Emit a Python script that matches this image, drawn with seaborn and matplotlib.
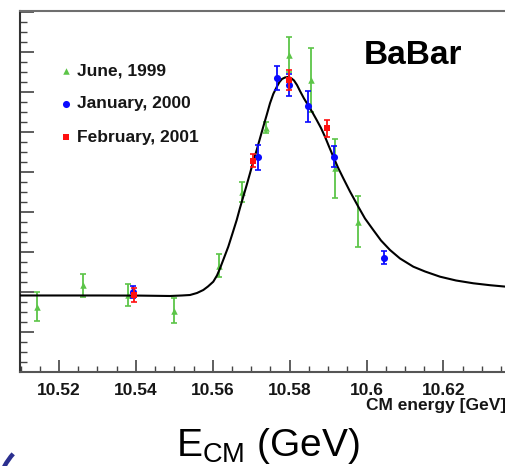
import numpy as np
import pandas as pd
import matplotlib
matplotlib.use("Agg")
import matplotlib.pyplot as plt
from matplotlib.ticker import FixedLocator, FixedFormatter, MultipleLocator, NullFormatter
from matplotlib.patches import Arc
import seaborn as sns

# ---------------- data ----------------
series_names = ["June, 1999", "January, 2000", "February, 2001"]

june_x = [10.5144, 10.5262, 10.5380, 10.5499, 10.5617, 10.5677, 10.5738, 10.5798, 10.5855, 10.5917, 10.5978]
june_y = [1.63, 2.17, 1.93, 1.53, 2.66, 4.50, 6.11, 7.93, 7.30, 5.09, 3.76]
june_err = [0.36, 0.29, 0.28, 0.31, 0.28, 0.24, 0.13, 0.44, 0.79, 0.74, 0.63]

jan_x = [10.5393, 10.5718, 10.5768, 10.5798, 10.5848, 10.5916, 10.6045]
jan_y = [2.00, 5.37, 7.34, 7.18, 6.64, 5.38, 2.86]
jan_err = [0.15, 0.31, 0.30, 0.28, 0.38, 0.26, 0.17]

feb_x = [10.5396, 10.5705, 10.5797, 10.5896]
feb_y = [1.93, 5.28, 7.30, 6.09]
feb_err = [0.17, 0.16, 0.24, 0.21]

fit_x = [10.50986, 10.53066, 10.54107, 10.54887, 10.55199, 10.55407, 10.55589, 10.55753,
         10.55875, 10.56013, 10.56109, 10.56187, 10.56291, 10.56403, 10.56512, 10.56622,
         10.56707, 10.56793, 10.56882, 10.56968, 10.57053, 10.57142, 10.57228, 10.57313,
         10.57402, 10.57488, 10.57573, 10.57662, 10.57735, 10.57800, 10.57878, 10.57956,
         10.58034, 10.58112, 10.58190, 10.58268, 10.58372, 10.58484, 10.58593, 10.58702,
         10.58814, 10.58918, 10.59022, 10.59134, 10.59256, 10.59394, 10.59568, 10.59784,
         10.59958, 10.60174, 10.60375, 10.60609, 10.60869, 10.61215, 10.61519, 10.61909,
         10.62325, 10.62775, 10.63209, 10.63626, 10.64250]
fit_y = [1.913, 1.913, 1.910, 1.900, 1.913, 1.925, 1.975, 2.050,
         2.138, 2.258, 2.413, 2.588, 2.850, 3.133, 3.463, 3.800,
         4.100, 4.383, 4.675, 4.968, 5.263, 5.550, 5.843, 6.133,
         6.425, 6.718, 6.950, 7.125, 7.250, 7.325, 7.363, 7.375,
         7.350, 7.288, 7.175, 7.025, 6.838, 6.663, 6.488, 6.300,
         6.100, 5.883, 5.638, 5.383, 5.113, 4.843, 4.513, 4.133,
         3.838, 3.550, 3.288, 3.050, 2.838, 2.633, 2.513, 2.383,
         2.288, 2.218, 2.170, 2.133, 2.088]

x_tick_values = [10.52, 10.54, 10.56, 10.58, 10.60, 10.62]
x_tick_labels = ["10.52", "10.54", "10.56", "10.58", "10.6", "10.62"]

# ---------------- style ----------------
sns.set_theme(style="white")
plt.rcParams["font.family"] = ["Liberation Sans", "DejaVu Sans"]
plt.rcParams["mathtext.fontset"] = "custom"
plt.rcParams["mathtext.rm"] = "Liberation Sans"
plt.rcParams["mathtext.it"] = "Liberation Sans:italic"

colors = {"June, 1999": "#5cc548", "January, 2000": "#0a0aff", "February, 2001": "#ff1010"}
markers = {"June, 1999": "^", "January, 2000": "o", "February, 2001": "s"}
sizes = {"June, 1999": 22, "January, 2000": 26, "February, 2001": 22}
zorders = {"June, 1999": 2, "January, 2000": 4, "February, 2001": 5}

frames = []
for name, xs, ys, es in [(series_names[0], june_x, june_y, june_err),
                         (series_names[1], jan_x, jan_y, jan_err),
                         (series_names[2], feb_x, feb_y, feb_err)]:
    frames.append(pd.DataFrame({"energy": xs, "value": ys, "err": es, "period": name}))
df = pd.concat(frames, ignore_index=True)
fit_df = pd.DataFrame({"energy": fit_x, "value": fit_y})

W, H = 506, 466
fig = plt.figure(figsize=(W / 100, H / 100), dpi=100)
fig.patch.set_facecolor("white")

ax_left, ax_right, ax_top, ax_bottom = 20, 530, 11, 372
ax = fig.add_axes([ax_left / W, (H - ax_bottom) / H, (ax_right - ax_left) / W, (ax_bottom - ax_top) / H])
ax.set_facecolor("white")

# fit curve
sns.lineplot(data=fit_df, x="energy", y="value", ax=ax, color="black", linewidth=1.5,
             zorder=3, legend=False, sort=False)
for ln in ax.get_lines():
    ln.set_solid_joinstyle("round")

# data points with error bars
for name in series_names:
    sub = df[df["period"] == name]
    ax.errorbar(sub["energy"], sub["value"], yerr=sub["err"], fmt="none",
                ecolor=colors[name], elinewidth=1.3, capsize=2, capthick=1.2,
                zorder=zorders[name])
    sns.scatterplot(data=sub, x="energy", y="value", ax=ax, color=colors[name],
                    marker=markers[name], s=sizes[name], edgecolor=colors[name],
                    linewidth=0, zorder=zorders[name] + 0.5, label=name)

h, l = ax.get_legend_handles_labels()
leg = ax.legend(h, l, loc="upper left", bbox_to_anchor=((61 - ax_left) / (ax_right - ax_left),
                                                        (ax_bottom - 63) / (ax_bottom - ax_top)),
                frameon=False, handlelength=0.6, handletextpad=0.3,
                labelspacing=1.04, borderpad=0, borderaxespad=0, markerscale=1.0,
                prop={"size": 12.5, "weight": "bold"})
for t in leg.get_texts():
    t.set_color("#161616")

# axes limits and ticks
ax.set_xlim(10.50986, 10.6425)
ax.set_ylim(0, 9.025)
ax.xaxis.set_major_locator(FixedLocator(x_tick_values))
ax.xaxis.set_major_formatter(FixedFormatter(x_tick_labels))
ax.xaxis.set_minor_locator(MultipleLocator(0.005))
ax.yaxis.set_major_locator(MultipleLocator(1))
ax.yaxis.set_minor_locator(MultipleLocator(0.25))
ax.yaxis.set_major_formatter(NullFormatter())

ax.tick_params(axis="x", which="major", direction="in", length=8.5, width=1.1,
               color="#333333", labelsize=12.5, pad=8, labelcolor="#161616",
               bottom=True, top=False)
for lbl in ax.get_xticklabels():
    lbl.set_fontweight("bold")
ax.tick_params(axis="x", which="minor", direction="in", length=4.2, width=1.0,
               color="#444444", bottom=True, top=False)
ax.tick_params(axis="y", which="major", direction="in", length=10, width=1.1,
               color="#333333", left=True, right=False, labelleft=False)
ax.tick_params(axis="y", which="minor", direction="in", length=5, width=1.0,
               color="#444444", left=True, right=False)

ax.set_xlabel("")
ax.set_ylabel("")
for side in ["left", "bottom", "top"]:
    ax.spines[side].set_visible(True)
    ax.spines[side].set_linewidth(1.5)
ax.spines["left"].set_color("#333333")
ax.spines["bottom"].set_color("#555555")
ax.spines["top"].set_color("#6e6e6e")
ax.spines["right"].set_visible(False)

# texts
ax.text((413 - ax_left) / (ax_right - ax_left), (ax_bottom - 55) / (ax_bottom - ax_top),
        "BaBar", transform=ax.transAxes, fontsize=24, fontweight="bold",
        ha="center", va="center", color="black")
fig.text(506 / W, (H - 405.5) / H, "CM energy [GeV]", fontsize=12.5, fontweight="bold",
         ha="right", va="center", color="#161616")
fig.text(176 / W, (H - 456.5) / H, r"E$_{\mathrm{CM}}$ (GeV)", fontsize=28,
         ha="left", va="baseline", color="black")

# decorative arc fragment at bottom-left corner
arc = Arc((60 / 100, -30 / 100), 2 * 63 / 100, 2 * 63 / 100, theta1=138, theta2=165,
          transform=fig.dpi_scale_trans, color="#2b2f8f", linewidth=3.2)
fig.add_artist(arc)

fig.savefig("out.png", dpi=100)
